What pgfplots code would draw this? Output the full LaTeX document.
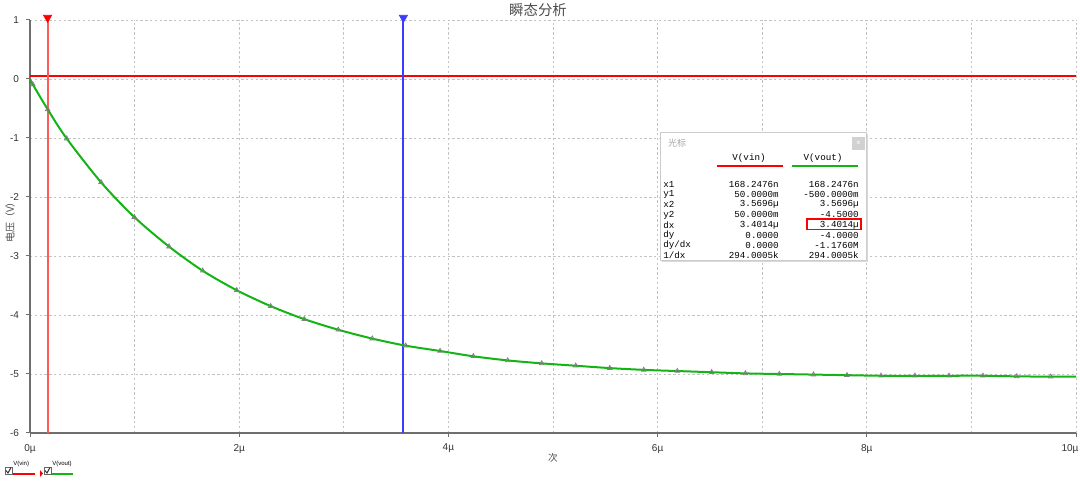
\documentclass[border=0pt]{standalone}
\usepackage{pgfplots}
\pgfplotsset{compat=1.18}
\usepackage{pgfplotstable}
\usepackage{fontspec}
\setmainfont{Liberation Sans}
\newfontfamily\cjk{Noto Sans CJK SC}
\newfontfamily\mono{Liberation Mono}

\definecolor{vgreen}{RGB}{20,180,20}
\definecolor{vred}{RGB}{255,0,0}
\definecolor{curred}{RGB}{255,90,90}
\definecolor{curblue}{RGB}{60,60,255}
\definecolor{gridgray}{RGB}{195,195,195}
\definecolor{axgray}{RGB}{110,110,110}

% V(vout)
\pgfplotstableread{
t v
0 0
0.026 -0.09
0.169 -0.515
0.351 -1.01
0.679 -1.75
0.997 -2.34
1.329 -2.84
1.651 -3.25
1.976 -3.58
2.301 -3.85
2.622 -4.07
2.947 -4.25
3.272 -4.40
3.592 -4.52
3.920 -4.61
4.238 -4.70
4.567 -4.77
4.892 -4.82
5.217 -4.86
5.542 -4.90
5.867 -4.93
6.189 -4.95
6.517 -4.97
6.839 -4.99
7.164 -5.00
7.490 -5.01
7.810 -5.02
8.136 -5.03
8.460 -5.03
8.786 -5.03
9.110 -5.03
9.433 -5.04
9.758 -5.045
10 -5.045
}\vout

\begin{document}
\begin{tikzpicture}
\begin{axis}[
  scale only axis,
  width=523pt, height=206.5pt,
  xmin=0, xmax=10, ymin=-6, ymax=1,
  clip=false,
  xtick={0,2,4,6,8,10},
  xticklabels={0µ,2µ,4µ,6µ,8µ,\hspace*{-6pt}10µ},
  minor xtick={1,3,5,7,9},
  ytick={-6,-5,-4,-3,-2,-1,0,1},
  yticklabels={-6,-5,-4,-3,-2,-1,0,1},
  grid=both,
  grid style={dash pattern=on 1.2pt off 1.2pt, gridgray, line width=0.35pt},
  minor grid style={dash pattern=on 1.2pt off 1.2pt, gridgray, line width=0.35pt},
  axis x line*=bottom, axis y line*=left,
  axis line style={axgray, line width=0.6pt, -},
  tick style={axgray, line width=0.5pt},
  tick align=outside, major tick length=2pt, minor tick length=0pt,
  ticklabel style={font=\fontsize{5}{6}\selectfont, color=black!80},
  xlabel={\cjk 次},
  xlabel style={at={(axis description cs:0.5,-0.0605)}, anchor=center,
    font=\fontsize{4.8}{6}\selectfont, color=black!70},
  ylabel={\cjk 电压（V）},
  ylabel style={at={(axis description cs:-0.0191,0.516)}, anchor=center,
    font=\fontsize{5}{6}\selectfont, color=black!70},
]
% V(vin)
\addplot[draw=vred, line width=1pt, mark=none] coordinates {(0,0.05) (10,0.05)};
% cursors
\addplot[draw=curred, line width=1pt, mark=none] coordinates {(0.1682,-6) (0.1682,1)};
\addplot[draw=curblue, line width=1pt, mark=none] coordinates {(3.5696,-6) (3.5696,1)};
\addplot[only marks, mark=triangle*, mark size=2.3pt, vred,
  mark options={rotate=180}] coordinates {(0.1682,1.04)};
\addplot[only marks, mark=triangle*, mark size=2.3pt, curblue,
  mark options={rotate=180}] coordinates {(3.5696,1.04)};
% V(vout)
\addplot[vgreen, line width=1pt, smooth, mark=none] table[x=t, y=v] {\vout};
\addplot[only marks, mark=triangle, mark size=1.3pt, gray, line width=0.4pt,
  skip coords between index={0}{1}, skip coords between index={33}{34}]
  table[x=t, y=v] {\vout};
\end{axis}

% title, cursor window and legend, in reference pixels (origin at axis top-left)
\begin{scope}[shift={(current axis.north west)}, x=0.5pt, y=-0.5pt]
  \node[font=\cjk\fontsize{7.2}{8}\selectfont, text=black!70] at (508,-10) {瞬态分析};
  \fill[black!15] (632,114) rectangle (838,242);
  \filldraw[fill=white, draw=black!20, line width=0.4pt] (630,112) rectangle (836,240);
  \node[font=\cjk\fontsize{4.5}{5}\selectfont, text=black!35] at (647,123) {光标};
  \fill[black!18] (822,117) rectangle (835,130);
  \node[font=\fontsize{4}{4}\selectfont, text=white] at (828.5,123.5) {×};
  \node[font=\mono\fontsize{4.6}{5}\selectfont] at (719,138) {V(vin)};
  \node[font=\mono\fontsize{4.6}{5}\selectfont] at (793,138) {V(vout)};
  \draw[vred, line width=1pt] (687,146) -- (753,146);
  \draw[vgreen, line width=1pt] (762,146) -- (828,146);
  \foreach \lab/\a/\b [count=\i from 0] in {
      x1/168.2476n/168.2476n,
      y1/50.0000m/-500.0000m,
      x2/3.5696µ/3.5696µ,
      y2/50.0000m/-4.5000,
      dx/3.4014µ/3.4014µ,
      dy/0.0000/-4.0000,
      dy\slash dx/0.0000/-1.1760M,
      1\slash dx/294.0005k/294.0005k} {
    \pgfmathsetmacro\yy{164.3+10.2*\i}
    \node[font=\mono\fontsize{4.6}{5}\selectfont, anchor=west, inner sep=0pt] at (633,\yy) {\lab};
    \node[font=\mono\fontsize{4.6}{5}\selectfont, anchor=east, inner sep=0pt] at (749,\yy) {\a};
    \node[font=\mono\fontsize{4.6}{5}\selectfont, anchor=east, inner sep=0pt] at (829,\yy) {\b};
  }
  \draw[vred, line width=0.6pt] (777,199) rectangle (831,209.5);
  % legend
  \draw[black!60, line width=0.4pt] (-25,447) rectangle (-18,454);
  \draw[black!80, line width=0.5pt] (-24,450.5) -- (-22,453) -- (-19,447.5);
  \node[font=\fontsize{3}{3}\selectfont, anchor=west, inner sep=0pt] at (-17,444) {V(vin)};
  \draw[vred, line width=0.7pt] (-17,454) -- (5,454);
  \fill[vred] (10,450) -- (13,453.5) -- (10,457) -- cycle;
  \draw[black!60, line width=0.4pt] (14,447) rectangle (21,454);
  \draw[black!80, line width=0.5pt] (15,450.5) -- (17,453) -- (20,447.5);
  \node[font=\fontsize{3}{3}\selectfont, anchor=west, inner sep=0pt] at (22,444) {V(vout)};
  \draw[vgreen, line width=0.7pt] (22,454) -- (43,454);
  \coordinate (bbA) at (-30,-20);
  \coordinate (bbB) at (1050,461);
\end{scope}
\pgfresetboundingbox
\path (bbA) rectangle (bbB);
\end{tikzpicture}
\end{document}
